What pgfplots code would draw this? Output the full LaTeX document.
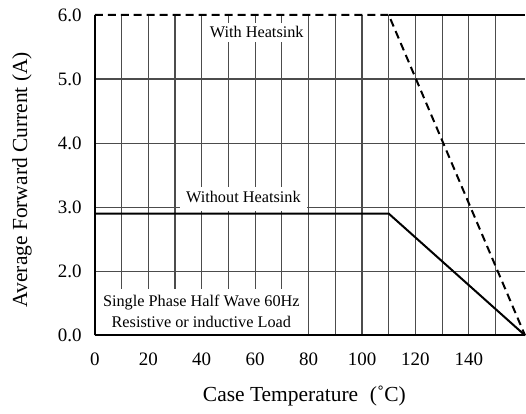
\documentclass[border=0pt]{standalone}
\usepackage{fontspec}
\setmainfont{Liberation Serif}
\usepackage{pgfplots}
\pgfplotsset{compat=1.18}
\begin{document}
\begin{tikzpicture}
\begin{axis}[
  at={(0,0)}, anchor=south west,
  scale only axis, width=431pt, height=321pt,
  xmin=0, xmax=161, ymin=1, ymax=6,
  axis x line*=bottom, axis y line*=left,
  axis line style={line width=1.8pt, -},
  /pgf/number format/assume math mode=true,
  xtick={0,10,...,150},
  xticklabels={\textrm{0},,\textrm{20},,\textrm{40},,\textrm{60},,\textrm{80},,\textrm{100},,\textrm{120},,\textrm{140},},
  ytick={1,2,3,4,5},
  yticklabels={\textrm{0.0},\textrm{2.0},\textrm{3.0},\textrm{4.0},\textrm{5.0}},
  extra y ticks={6},
  extra y tick labels={\textrm{6.0}},
  extra y tick style={grid=none},
  major tick length=0pt,
  tick label style={font=\rmfamily\fontsize{19}{22}\selectfont, inner sep=0pt},
  xticklabel style={anchor=north, yshift=-17pt},
  yticklabel style={anchor=east, xshift=-13pt},
  grid=major,
  grid style={black!70, line width=1.2pt},
  xlabel={Case Temperature\hspace{0.55em}(˚C)},
  ylabel={Average Forward Current (A)},
  label style={font=\fontsize{21.5}{24}\selectfont},
  xlabel style={at={(axis description cs:0.487,-0.19)}, anchor=center},
  ylabel style={at={(axis description cs:-0.169,0.486)}, anchor=center},
  clip=false,
]
% white label boxes first, so the curves are drawn over them
\node[fill=white, font=\fontsize{16.3}{19}\selectfont, inner xsep=4pt, inner ysep=4pt]
  at (axis cs:60.6,5.73) {With Heatsink};
\node[fill=white, font=\fontsize{16.3}{19}\selectfont, inner xsep=6pt, inner ysep=4pt,
  text height=12pt, text depth=4pt]
  at (axis cs:55.6,3.13) {Without Heatsink};
\node[fill=white, font=\fontsize{16.3}{21}\selectfont, align=center, inner sep=0pt,
  minimum width=210pt, minimum height=44.5pt, anchor=south west, xshift=1.5pt, yshift=1.5pt]
  at (axis cs:0,1) {Single Phase Half Wave 60Hz\\Resistive or inductive Load};

% with heatsink (dashed)
\addplot[black, line width=2pt, dash pattern=on 8pt off 5pt] coordinates
  {(0,6) (110,6) (161,1)};
% top border segment
\addplot[black, line width=1.8pt] coordinates {(110,6) (161,6)};
% without heatsink
\addplot[black, line width=2pt] coordinates
  {(0,2.9) (110,2.9) (161,1)};
\end{axis}
\path[use as bounding box] (-95pt,-78pt) rectangle (431pt,336pt);
\end{tikzpicture}
\end{document}
